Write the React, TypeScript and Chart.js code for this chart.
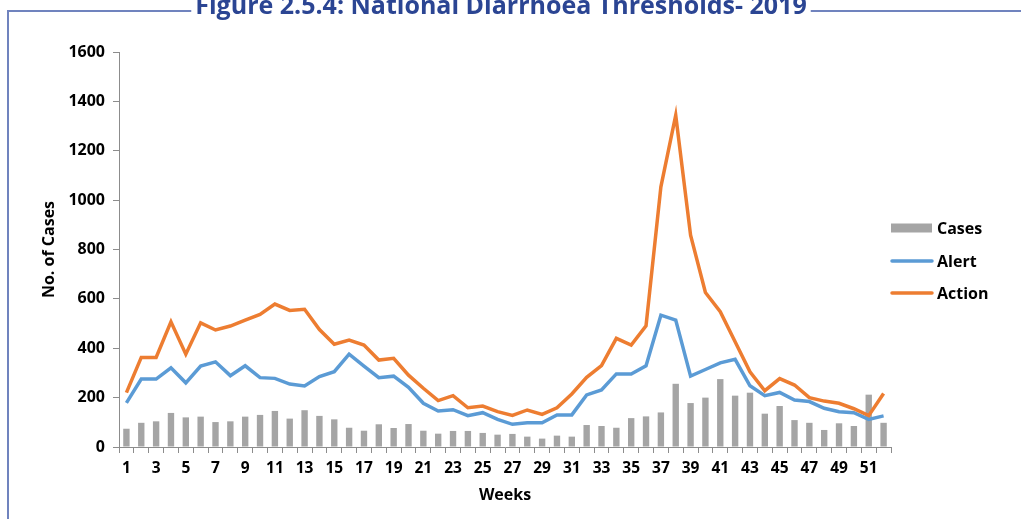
import React, { useEffect, useRef } from "react";
import { Chart, registerables } from "chart.js";

Chart.register(...registerables);

const TITLE = "Figure 2.5.4: National Diarrhoea Thresholds- 2019";
const WEEKS = ["1","2","3","4","5","6","7","8","9","10","11","12","13","14","15","16","17","18","19","20","21","22","23","24","25","26","27","28","29","30","31","32","33","34","35","36","37","38","39","40","41","42","43","44","45","46","47","48","49","50","51","52"];
const CASES = [74,98,104,138,120,123,101,104,123,130,146,115,149,126,112,78,66,92,77,93,66,54,65,65,57,50,53,42,34,46,42,89,85,78,117,124,140,256,178,200,275,208,220,135,166,109,98,69,96,85,212,98];
const ALERT = [179,275,275,321,260,328,345,289,329,281,278,255,247,285,305,376,328,281,287,242,177,146,151,127,139,112,92,98,98,130,130,211,231,296,296,329,534,514,287,314,341,355,248,208,221,190,184,157,143,139,112,126];
const ACTION = [220,363,363,507,376,503,474,490,514,537,579,553,558,476,416,433,413,352,359,291,238,188,208,159,166,143,128,150,132,159,215,282,330,440,413,491,1054,1344,858,626,548,426,305,228,277,251,200,186,177,155,127,217];

const FONT = "'Open Sans', 'DejaVu Sans', sans-serif";
const AXIS_GRAY = "#8C8C8C";

const framePlugin = {
  id: "frameTitleLegend",
  afterDraw(chart: any) {
    const ctx = chart.ctx;
    ctx.save();
    // title
    ctx.font = `bold 25px ${FONT}`;
    ctx.fillStyle = "#2B4593";
    ctx.textAlign = "center";
    ctx.textBaseline = "alphabetic";
    const cx = 501;
    const tw = ctx.measureText(TITLE).width;
    ctx.fillText(TITLE, cx, 14);
    // frame
    ctx.strokeStyle = "#7083BE";
    ctx.lineWidth = 2;
    ctx.beginPath();
    ctx.moveTo(8, 519);
    ctx.lineTo(8, 11);
    ctx.lineTo(cx - tw / 2 - 4, 11);
    ctx.moveTo(cx + tw / 2 + 4, 11);
    ctx.lineTo(1021, 11);
    ctx.stroke();
    // legend
    const ds = chart.data.datasets;
    const rows = [228, 261, 293];
    ctx.font = `bold 16px ${FONT}`;
    ctx.textAlign = "left";
    ctx.textBaseline = "middle";
    ds.forEach((d: any, i: number) => {
      const y = rows[i];
      if (d.type === "bar") {
        ctx.fillStyle = d.backgroundColor;
        ctx.fillRect(891, y - 4.5, 41, 9);
      } else {
        ctx.strokeStyle = d.borderColor;
        ctx.lineWidth = 3.5;
        ctx.lineCap = "round";
        ctx.beginPath();
        ctx.moveTo(892, y);
        ctx.lineTo(932, y);
        ctx.stroke();
      }
      ctx.fillStyle = "#000";
      ctx.fillText(d.label, 937, y + 1);
    });
    ctx.restore();
  },
};

export default function App() {
  const ref = useRef<HTMLCanvasElement>(null);
  useEffect(() => {
    if (!ref.current) return;
    const chart = new Chart(ref.current, {
      type: "bar",
      data: {
        labels: WEEKS,
        datasets: [
          {
            type: "bar",
            label: "Cases",
            data: CASES,
            backgroundColor: "#A5A5A5",
            barPercentage: 0.43,
            categoryPercentage: 1,
            order: 3,
          } as any,
          {
            type: "line",
            label: "Alert",
            data: ALERT,
            borderColor: "#5B9BD5",
            backgroundColor: "#5B9BD5",
            borderWidth: 3.5,
            pointRadius: 0,
            tension: 0,
            order: 2,
          },
          {
            type: "line",
            label: "Action",
            data: ACTION,
            borderColor: "#ED7D31",
            backgroundColor: "#ED7D31",
            borderWidth: 3.5,
            pointRadius: 0,
            tension: 0,
            order: 1,
          },
        ],
      },
      options: {
        responsive: false,
        animation: false,
        layout: { padding: { left: 0, right: 130, top: 52, bottom: 0 } },
        plugins: { legend: { display: false }, tooltip: { enabled: false }, title: { display: false } },
        scales: {
          x: {
            grid: { display: true, offset: true, drawOnChartArea: false, drawTicks: true, tickLength: 6, color: AXIS_GRAY },
            border: { display: true, color: AXIS_GRAY, width: 1 },
            ticks: {
              autoSkip: false,
              maxRotation: 0,
              color: "#000",
              padding: 6,
              font: { family: FONT, size: 15.5, weight: "bold" },
              callback: (_v: any, i: number) => (i % 2 === 0 ? WEEKS[i] : ""),
            },
            title: { display: true, text: "Weeks", color: "#000", font: { family: FONT, size: 16, weight: "bold" }, padding: { top: 0, bottom: 14 } },
            afterFit: (s: any) => { s.height = 72; },
          },
          y: {
            min: 0,
            max: 1600,
            grid: { display: true, drawOnChartArea: false, drawTicks: true, tickLength: 6, color: AXIS_GRAY },
            border: { display: true, color: AXIS_GRAY, width: 1 },
            ticks: {
              stepSize: 200,
              color: "#000",
              padding: 8,
              font: { family: FONT, size: 16, weight: "bold" },
              callback: (v: any) => String(v),
            },
            title: { display: true, text: "No. of Cases", color: "#000", font: { family: FONT, size: 16, weight: "bold" }, padding: { top: 40, bottom: 0 } },
            afterFit: (s: any) => { s.width = 119; },
          },
        },
      },
      plugins: [framePlugin],
    });
    return () => chart.destroy();
  }, []);
  return (
    <div style={{ position: "fixed", left: 0, top: 0, width: 1021, height: 519 }}>
      <canvas ref={ref} width={1021} height={519} style={{ width: 1021, height: 519, display: "block" }} />
    </div>
  );
}
